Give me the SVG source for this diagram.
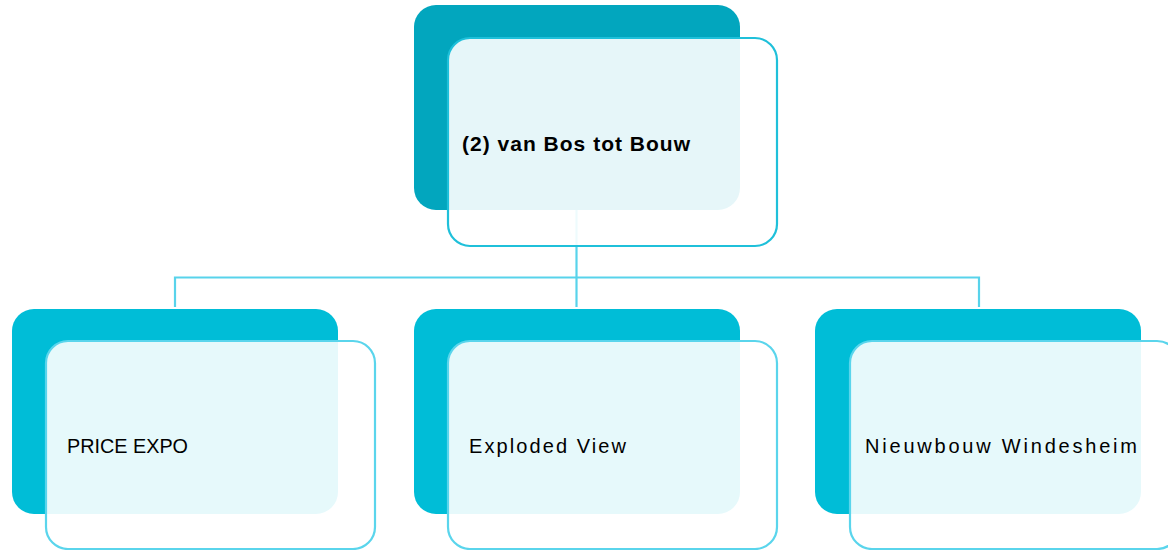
<svg xmlns="http://www.w3.org/2000/svg" width="1168" height="550" viewBox="0 0 1168 550">
<style>
.conn{stroke:#58D3EB;stroke-width:2.2;fill:none}
.back1{fill:#02A6BE}
.back2{fill:#00BDD7}
.front1{fill:#FFFFFF;fill-opacity:0.9;stroke:#1FC0DA;stroke-width:2.2}
.front2{fill:#FFFFFF;fill-opacity:0.9;stroke:#5AD5EC;stroke-width:2.2}
.lbl{font-family:"Liberation Sans",Arial,sans-serif;font-size:20px;fill:#000}
.bold{font-weight:bold;font-size:21px}
</style>
<rect width="1168" height="550" fill="#FFFFFF"/>
<g id="connectors">
<path class="conn" d="M576.5,210 V307"/>
<path class="conn" d="M175,307 V277.5 H979 V307"/>
</g>
<g id="node-root">
<rect class="back1" x="414" y="5" width="326" height="205" rx="22"/>
<rect class="front1" x="448" y="38" width="329" height="208" rx="22"/>
<text class="lbl bold" x="462" y="151" textLength="228" lengthAdjust="spacing">(2) van Bos tot Bouw</text>
</g>
<g id="node-price">
<rect class="back2" x="12" y="309" width="326" height="205" rx="22"/>
<rect class="front2" x="46" y="341" width="329" height="208" rx="22"/>
<text class="lbl" x="67" y="453" textLength="121" lengthAdjust="spacingAndGlyphs">PRICE EXPO</text>
</g>
<g id="node-exploded">
<rect class="back2" x="414" y="309" width="326" height="205" rx="22"/>
<rect class="front2" x="448" y="341" width="329" height="208" rx="22"/>
<text class="lbl" x="469" y="453" textLength="157" lengthAdjust="spacing">Exploded View</text>
</g>
<g id="node-nieuwbouw">
<rect class="back2" x="815" y="309" width="326" height="205" rx="22"/>
<rect class="front2" x="850" y="341" width="329" height="208" rx="22"/>
<text class="lbl" x="865" y="453" textLength="272" lengthAdjust="spacing">Nieuwbouw Windesheim</text>
</g>
</svg>
